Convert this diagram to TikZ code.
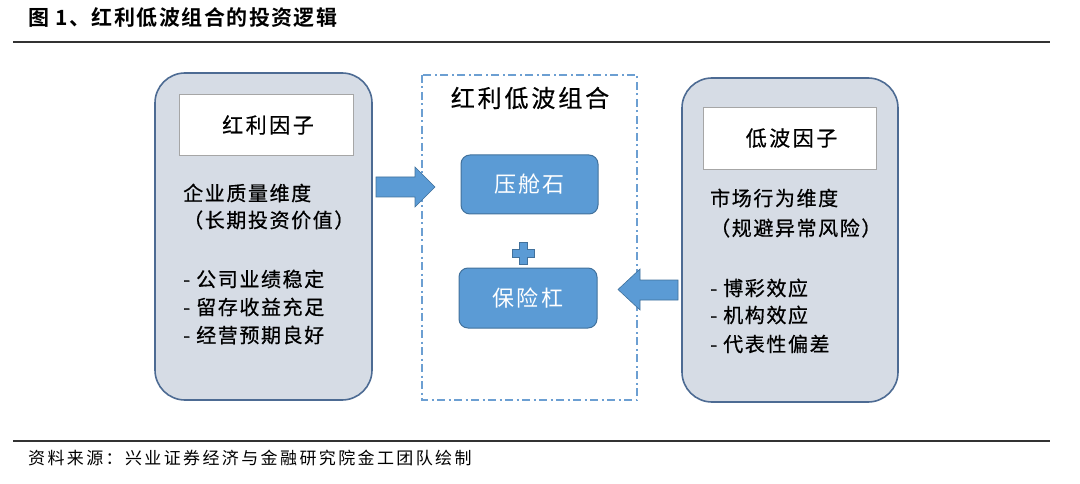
\documentclass[tikz,border=0pt]{standalone}
\usepackage{fontspec}
\setmainfont{Noto Sans CJK SC}
\newfontfamily\cjkbody[LetterSpace=8,FakeBold=0.6]{Noto Sans CJK SC}
\newfontfamily\cjkhead[LetterSpace=12,FakeBold=0.6]{Noto Sans CJK SC}
\newfontfamily\cjkbox[LetterSpace=10]{Noto Sans CJK SC}
\newfontfamily\cjksrc[LetterSpace=14]{Noto Sans CJK SC}
\newfontfamily\cjkbold[LetterSpace=7]{Noto Sans CJK SC Bold}
\definecolor{panelfill}{HTML}{D6DCE5}
\definecolor{panelline}{HTML}{4D6B93}
\definecolor{bluefill}{HTML}{5B9BD5}
\definecolor{blueline}{HTML}{41719C}
\definecolor{dashline}{HTML}{6C9FD2}
\begin{document}
\begin{tikzpicture}[x=1pt,y=-1pt,
  panel/.style={draw=panelline,line width=1.6pt,fill=panelfill,rounded corners=30pt},
  whitebox/.style={draw=black!35,line width=0.8pt,fill=white},
  bluebox/.style={draw=blueline,line width=1pt,fill=bluefill,rounded corners=9pt},
  txt/.style={anchor=west,inner sep=0pt,font=\cjkbody\fontsize{20}{24}\selectfont},
  headtxt/.style={inner sep=0pt,font=\cjkhead\fontsize{21}{24}\selectfont},
  blockarrow/.style={draw=blueline,line width=0.6pt,fill=bluefill},
  rule/.style={line width=1.2pt,draw=black!80}]
\useasboundingbox (0,0) rectangle (1080,484);
% title and rules
\node[anchor=west,inner sep=0pt,font=\cjkbold\fontsize{21}{24}\selectfont] (title) at (28,18) {图 1、红利低波组合的投资逻辑};
\coordinate (r1a) at (13,42); \coordinate (r1b) at (1050,42);
\draw[rule] (r1a) -- (r1b);
\coordinate (r2a) at (13,441); \coordinate (r2b) at (1050,441);
\draw[rule] (r2a) -- (r2b);
\node[anchor=west,inner sep=0pt,font=\cjksrc\fontsize{17}{20}\selectfont] (src) at (28,458) {资料来源：兴业证券经济与金融研究院金工团队绘制};
% left panel
\draw[panel] (155,73) rectangle (372,400);
\node[whitebox,minimum width=174pt,minimum height=61pt] (lh) at (266,124.5) {};
\node[headtxt] (lht) at (268,125) {红利因子};
\node[txt] (l1) at (183,193) {企业质量维度};
\node[txt] (l2) at (183,220) {（长期投资价值）};
\node[txt] (l3) at (183,279) {- 公司业绩稳定};
\node[txt] (l4) at (183,307) {- 留存收益充足};
\node[txt] (l5) at (183,335) {- 经营预期良好};
% middle
\draw[draw=dashline,line width=1.3pt,dash pattern=on 8pt off 3.5pt on 2pt off 3.5pt] (422,75) rectangle (637,400);
\node[inner sep=0pt,font=\cjkhead\fontsize{24}{28}\selectfont] (mt) at (530,98) {红利低波组合};
\node[bluebox,minimum width=137pt,minimum height=59pt,text=white,font=\cjkbox\fontsize{22}{26}\selectfont] (b1) at (529.5,184.5) {压舱石};
\node[bluebox,minimum width=138pt,minimum height=60pt,text=white,font=\cjkbox\fontsize{22}{26}\selectfont] (b2) at (528,298) {保险杠};
\draw[blockarrow] (519,242) -- (527,242) -- (527,249) -- (534,249) -- (534,257) -- (527,257) -- (527,264) -- (519,264) -- (519,257) -- (512,257) -- (512,249) -- (519,249) -- cycle;
% arrows
\draw[blockarrow] (376,177) -- (415,177) -- (415,167) -- (435,187) -- (415,207) -- (415,197) -- (376,197) -- cycle;
\draw[blockarrow] (678,280) -- (640,280) -- (640,269) -- (618,289.5) -- (640,310) -- (640,300) -- (678,300) -- cycle;
% right panel
\draw[panel] (682,78) rectangle (898,402);
\node[whitebox,minimum width=173pt,minimum height=62pt] (rh) at (789.5,138) {};
\node[headtxt] (rht) at (791.5,138) {低波因子};
\node[txt] (r1) at (710,198) {市场行为维度};
\node[txt] (r2) at (710,228) {（规避异常风险）};
\node[txt] (r3) at (710,288) {- 博彩效应};
\node[txt] (r4) at (710,315) {- 机构效应};
\node[txt] (r5) at (710,344) {- 代表性偏差};
\end{tikzpicture}
\end{document}
